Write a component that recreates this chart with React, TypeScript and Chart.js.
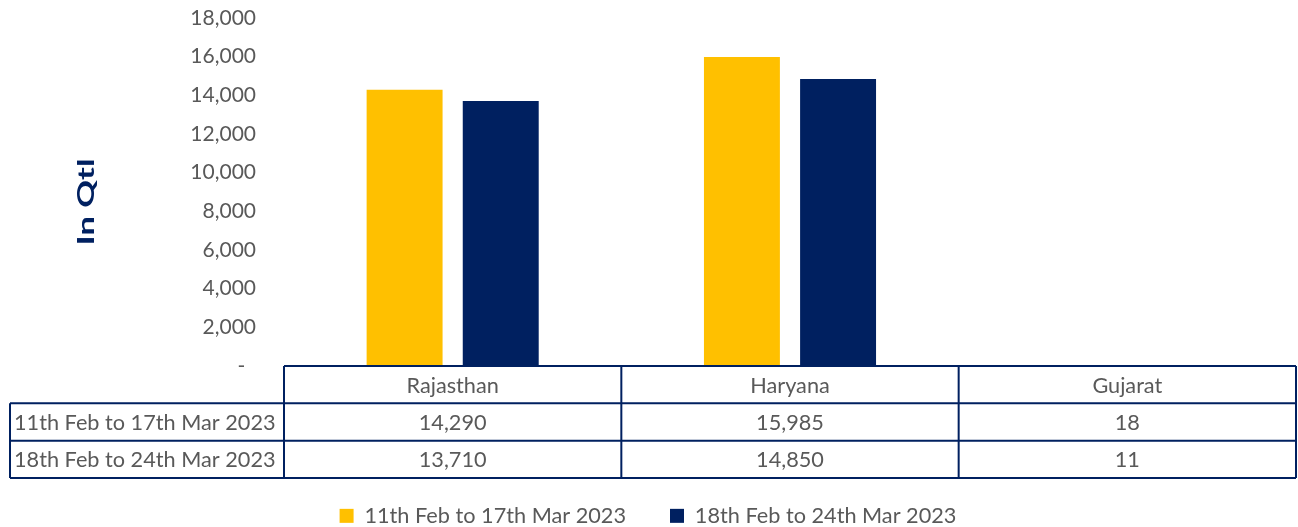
import React, { useEffect, useRef } from "react";
import { Chart, registerables } from "chart.js";

Chart.register(...registerables);

const categories = ["Rajasthan", "Haryana", "Gujarat"];
const seriesLabels = ["11th Feb to 17th Mar 2023", "18th Feb to 24th Mar 2023"];
const series1 = [14290, 15985, 18];
const series2 = [13710, 14850, 11];
const seriesColors = ["#FFC000", "#002060"];
const yTicks = [0, 2000, 4000, 6000, 8000, 10000, 12000, 14000, 16000, 18000];
const yTitle = "In Qtl";

const FONT = "Lato, 'Open Sans', 'Liberation Sans', sans-serif";
const TEXT = "#595959";
const NAVY = "#002060";
const TABLE_FONT_SIZE = 21.7;

const fmt = (v: number) => v.toLocaleString("en-US");

const tablePlugin = {
  id: "dataTable",
  afterDraw(chart: any) {
    const ctx = chart.ctx as CanvasRenderingContext2D;
    const area = chart.chartArea;
    const left = area.left;
    const right = area.right;
    const top = area.bottom;
    const rowH = 37.33;
    const labelLeft = 10;
    const n = categories.length;
    const w = (right - left) / n;
    const rows = [series1, series2];

    ctx.save();
    ctx.font = `${TABLE_FONT_SIZE}px ${FONT}`;
    ctx.fillStyle = TEXT;
    ctx.textBaseline = "middle";
    ctx.textAlign = "center";
    const xs = chart.scales.x;
    categories.forEach((c, i) => {
      const cx = xs.getPixelForValue(i);
      ctx.fillText(c, cx, top + rowH / 2 + 1);
      rows.forEach((r, j) => {
        ctx.fillText(fmt(r[i]), cx, top + rowH * (j + 1) + rowH / 2 + 1);
      });
    });
    ctx.textAlign = "left";
    seriesLabels.forEach((s, j) => {
      ctx.fillText(s, labelLeft + 4, top + rowH * (j + 1) + rowH / 2 + 1);
    });

    ctx.strokeStyle = NAVY;
    ctx.lineWidth = 2;
    ctx.beginPath();
    ctx.moveTo(left, top);
    ctx.lineTo(right, top);
    for (let j = 1; j <= rows.length + 1; j++) {
      ctx.moveTo(labelLeft, top + rowH * j);
      ctx.lineTo(right, top + rowH * j);
    }
    ctx.moveTo(labelLeft, top + rowH);
    ctx.lineTo(labelLeft, top + rowH * (rows.length + 1));
    for (let i = 0; i <= n; i++) {
      const x = left + w * i;
      ctx.moveTo(x, top);
      ctx.lineTo(x, top + rowH * (rows.length + 1));
    }
    ctx.stroke();

    // y title
    ctx.translate(87, 202);
    ctx.rotate(-Math.PI / 2);
    ctx.scale(1.5, 1);
    ctx.font = `bold 23px ${FONT}`;
    ctx.fillStyle = NAVY;
    ctx.textAlign = "center";
    ctx.textBaseline = "middle";
    ctx.fillText(yTitle, 0, 0);
    ctx.restore();
  },
};

export default function App() {
  const ref = useRef<HTMLCanvasElement | null>(null);
  useEffect(() => {
    document.body.style.margin = "0";
    const canvas = ref.current;
    if (!canvas) return;
    const chart = new Chart(canvas, {
      type: "bar",
      data: {
        labels: categories,
        datasets: [
          {
            label: seriesLabels[0],
            data: series1,
            backgroundColor: seriesColors[0],
            borderWidth: 0,
          },
          {
            label: seriesLabels[1],
            data: series2,
            backgroundColor: seriesColors[1],
            borderWidth: 0,
          },
        ],
      },
      options: {
        animation: false,
        responsive: false,
        maintainAspectRatio: false,
        layout: { padding: { top: 0, left: 0, right: 2, bottom: 0 } },
        datasets: {
          bar: { categoryPercentage: 0.57, barPercentage: 0.79 },
        },
        scales: {
          x: {
            grid: { display: false },
            border: { display: false },
            ticks: { display: false },
            afterFit: (scale: any) => {
              scale.height = 95;
            },
          },
          y: {
            min: 0,
            max: 18000,
            grid: { display: false, drawTicks: false },
            border: { display: false },
            afterBuildTicks: (scale: any) => {
              scale.ticks = yTicks.map((v) => ({ value: v }));
            },
            ticks: {
              padding: 28,
              color: TEXT,
              font: { family: FONT, size: 21 },
              callback: (v: any) => (Number(v) === 0 ? "-  " : fmt(Number(v))),
            },
            afterFit: (scale: any) => {
              scale.width = 284;
              scale.paddingTop = 18;
            },
          },
        },
        plugins: {
          legend: {
            position: "bottom",
            maxHeight: 66,
            labels: {
              boxWidth: 14,
              boxHeight: 14,
              padding: 44,
              color: TEXT,
              font: { family: FONT, size: TABLE_FONT_SIZE },
            },
          },
          tooltip: { enabled: false },
        },
      },
      plugins: [tablePlugin],
    });
    return () => chart.destroy();
  }, []);
  return (
    <div style={{ width: 1298, height: 527 }}>
      <canvas ref={ref} width={1298} height={527} />
    </div>
  );
}
